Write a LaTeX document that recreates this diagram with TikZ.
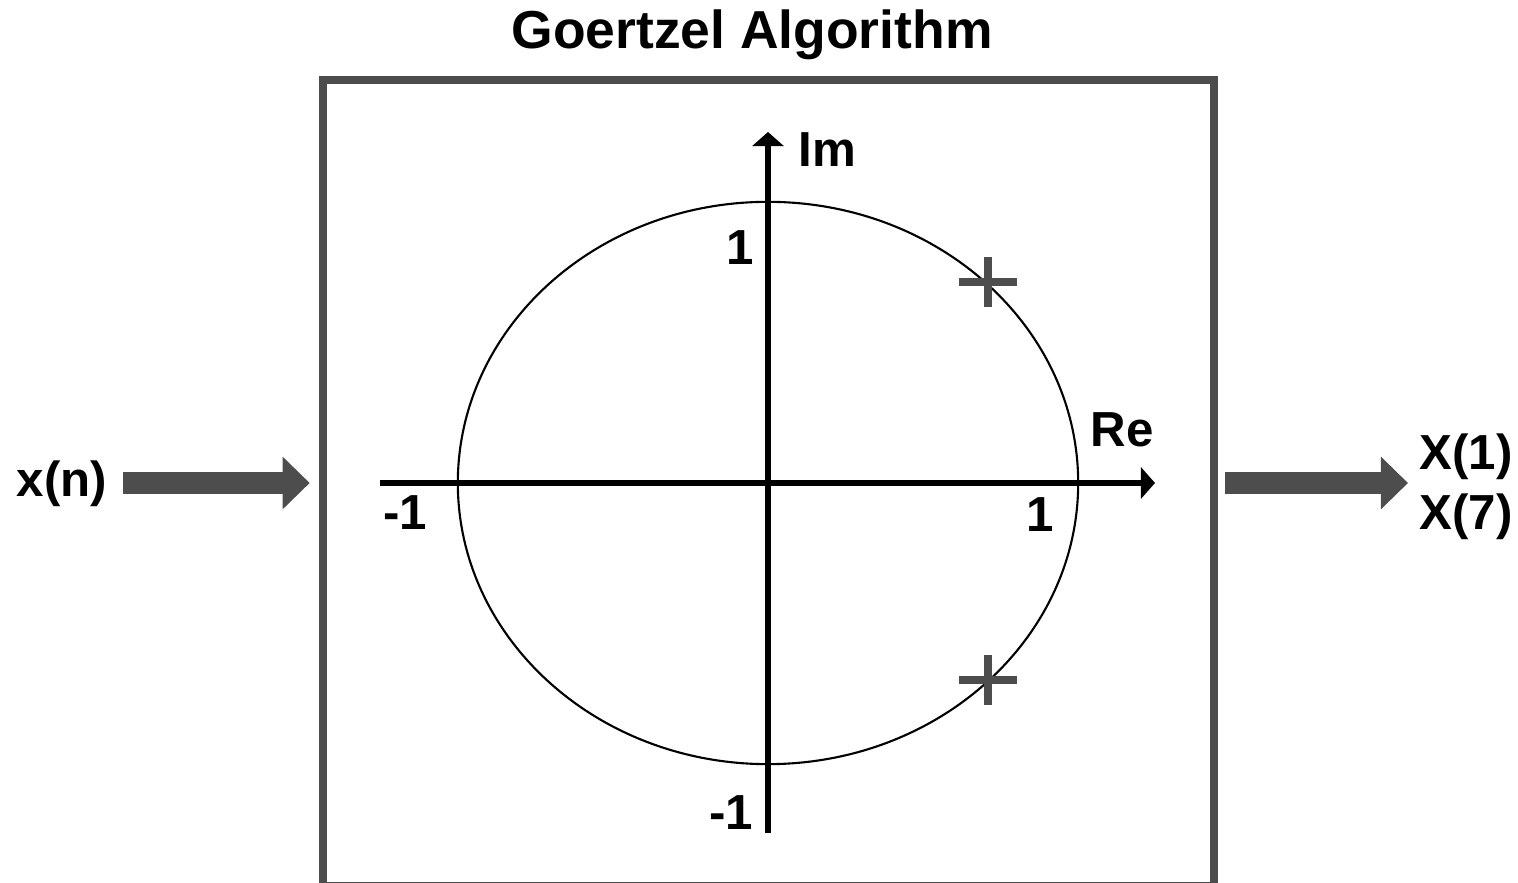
\documentclass[tikz,border=0pt]{standalone}
\usepackage{fontspec}
\setmainfont{Liberation Sans}
\usetikzlibrary{arrows.meta}
\definecolor{boxgray}{HTML}{4D4D4D}
\begin{document}
\begin{tikzpicture}[x=0.01cm, y=-0.01cm,
    lbl/.style={font=\bfseries\fontsize{14}{17}\selectfont, inner sep=0pt},
    titleLbl/.style={font=\bfseries\fontsize{15.2}{18}\selectfont, inner sep=0pt},
    flowArrow/.style={draw=boxgray, line width=6.2pt, -{Triangle[length=7.7pt,width=14.5pt]}},
    axisLine/.style={line width=1.7pt, -{Triangle[length=4pt,width=8.8pt]}},
    poleMark/.style={draw=boxgray, line width=2.3pt},
]
\useasboundingbox (0,0) rectangle (1518,883);
% block and its title
\node[draw=boxgray, line width=2.3pt, minimum width=8.91cm, minimum height=8.06cm] (goertzel) at (768.5,483) {};
\node[titleLbl, anchor=base] (title) at (752,49) {Goertzel Algorithm};
% input and output
\coordinate (O) at (768,483);
\node[lbl, anchor=base] (xin) at (62,497) {x(n)};
\node[lbl, anchor=west, align=left] (xout) at (1419,487) {X(1)\\X(7)};
\draw[flowArrow, shorten <=0.15cm, shorten >=0.09cm] (xin.east |- O) -- (goertzel.west |- O);
\draw[flowArrow, shorten <=0.07cm, shorten >=0.11cm] (goertzel.east |- O) -- (xout.west |- O);
% axes
\coordinate (reLeft) at (380,483);
\coordinate (reRight) at (1155,483);
\coordinate (imBot) at (768,833);
\coordinate (imTop) at (768,132);
\draw[axisLine] (reLeft) -- (reRight);
\draw[axisLine] (imBot) -- (imTop);
\node[lbl, anchor=base west] (imLbl) at (798,167) {Im};
\node[lbl, anchor=base west] (reLbl) at (1090,447) {Re};
\node[lbl, anchor=base] (imOne) at (740,265) {1};
\node[lbl, anchor=base] (imMinus) at (731,830) {-1};
\node[lbl, anchor=base] (reOne) at (1040,532) {1};
\node[lbl, anchor=base] (reMinus) at (405,530) {-1};
% unit circle
\draw[line width=0.6pt] (O) ellipse [x radius=3.10cm, y radius=2.81cm];
% poles
\foreach \py [count=\i] in {282,680} {
    \coordinate (pole\i) at (988,\py);
    \draw[poleMark] (pole\i) ++(-29,0) -- ++(58,0) (pole\i) ++(0,-25) -- ++(0,50);
}
\end{tikzpicture}
\end{document}
